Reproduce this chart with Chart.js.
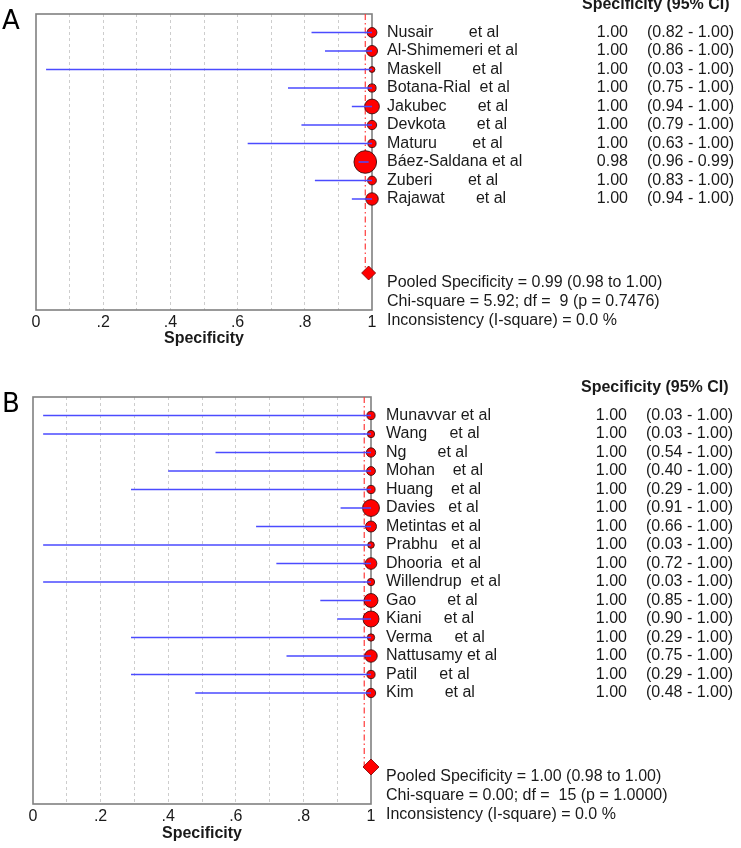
<!DOCTYPE html>
<html><head><meta charset="utf-8">
<script src="https://cdn.jsdelivr.net/npm/chart.js@4.4.0/dist/chart.umd.min.js"></script>
<style>
html,body{margin:0;padding:0;background:#fff;}
#wrapA{position:absolute;left:0;top:0;width:741px;height:350px;}
#wrapB{position:absolute;left:0;top:370px;width:741px;height:478px;}
</style></head><body>
<div id="wrapA"><canvas id="cA"></canvas></div>
<div id="wrapB"><canvas id="cB"></canvas></div>
<script>
// ---------- Panel A data ----------
const studiesA = ['Nusair        et al','Al-Shimemeri et al','Maskell       et al','Botana-Rial  et al','Jakubec       et al','Devkota       et al','Maturu        et al','Báez-Saldana et al','Zuberi        et al','Rajawat       et al'];
const specA  = [1.00,1.00,1.00,1.00,1.00,1.00,1.00,0.98,1.00,1.00];
const lowerA = [0.82,0.86,0.03,0.75,0.94,0.79,0.63,0.96,0.83,0.94];
const upperA = [1.00,1.00,1.00,1.00,1.00,1.00,1.00,0.99,1.00,1.00];
const weightA = [20,25,7,14,45,18,14,106,16,32];
const pooledA = {spec:0.99, lower:0.98, upper:1.00, chi:'5.92', df:'9', p:'0.7476', i2:'0.0'};

// ---------- Panel B data ----------
const studiesB = ['Munavvar et al','Wang     et al','Ng       et al','Mohan    et al','Huang    et al','Davies   et al','Metintas et al','Prabhu   et al','Dhooria  et al','Willendrup  et al','Gao       et al','Kiani     et al','Verma     et al','Nattusamy et al','Patil     et al','Kim       et al'];
const specB  = [1.00,1.00,1.00,1.00,1.00,1.00,1.00,1.00,1.00,1.00,1.00,1.00,1.00,1.00,1.00,1.00];
const lowerB = [0.03,0.03,0.54,0.40,0.29,0.91,0.66,0.03,0.72,0.03,0.85,0.90,0.29,0.75,0.29,0.48];
const upperB = [1.00,1.00,1.00,1.00,1.00,1.00,1.00,1.00,1.00,1.00,1.00,1.00,1.00,1.00,1.00,1.00];
const weightB = [14,11,18,16,14,59,25,9,28,11,40,53,11,32,14,18];
const pooledB = {spec:1.00, lower:0.98, upper:1.00, chi:'0.00', df:'15', p:'1.0000', i2:'0.0'};

// ---------- Axis ticks ----------
const xTickValues = [0,0.2,0.4,0.6,0.8,1];
const xTickLabels = ['0','.2','.4','.6','.8','1'];
const headerText = 'Specificity (95% CI)';
const axisTitle = 'Specificity';

const FONT = '"Liberation Sans", Arial, Helvetica, sans-serif';
const TXT = '#1a1a1a';

const forestPlugin = {
  id: 'forestText',
  beforeDatasetsDraw(chart) {
    const {ctx, chartArea: ca} = chart;
    ctx.save();
    ctx.strokeStyle = '#808080';
    ctx.lineWidth = 1.6;
    ctx.strokeRect(ca.left, ca.top, ca.right - ca.left, ca.bottom - ca.top);
    ctx.restore();
  },
  afterDraw(chart) {
    const o = chart.options.plugins.forestText;
    const {ctx, chartArea: ca} = chart;
    const y = chart.scales.y;
    const x0 = ca.right;
    const n = o.names.length;
    ctx.save();
    ctx.fillStyle = TXT;
    ctx.textBaseline = 'middle';
    ctx.font = 'bold 16px ' + FONT;
    ctx.textAlign = 'left';
    ctx.fillText(headerText, x0 + 210, y.getPixelForValue(-1.5));
    ctx.font = '16px ' + FONT;
    o.names.forEach((nm, i) => {
      const py = y.getPixelForValue(i);
      ctx.textAlign = 'left';
      ctx.fillText(nm, x0 + 15, py);
      ctx.textAlign = 'right';
      ctx.fillText(o.spec[i].toFixed(2), x0 + 256, py);
      ctx.textAlign = 'left';
      ctx.fillText('(' + o.lower[i].toFixed(2) + ' - ' + o.upper[i].toFixed(2) + ')', x0 + 275, py);
    });
    const P = o.pooled;
    ctx.textAlign = 'left';
    ctx.fillText('Pooled Specificity = ' + P.spec.toFixed(2) + ' (' + P.lower.toFixed(2) + ' to ' + P.upper.toFixed(2) + ')', x0 + 15, y.getPixelForValue(n + 3.52));
    ctx.fillText('Chi-square = ' + P.chi + '; df =  ' + P.df + ' (p = ' + P.p + ')', x0 + 15, y.getPixelForValue(n + 4.55));
    ctx.fillText('Inconsistency (I-square) = ' + P.i2 + ' %', x0 + 15, y.getPixelForValue(n + 5.55));
    ctx.font = '26px "DejaVu Sans", sans-serif';
    ctx.textBaseline = 'alphabetic';
    ctx.fillStyle = '#000';
    ctx.fillText(o.letter, 2, o.letterY);
    ctx.restore();
  }
};

function makeChart(id, cfg) {
  const n = cfg.names.length;
  const ciData = [];
  cfg.lower.forEach((lo, i) => {
    ciData.push({x: lo, y: i}, {x: cfg.upper[i], y: i}, {x: null, y: null});
  });
  return new Chart(document.getElementById(id), {
    type: 'scatter',
    data: {
      datasets: [
        {
          label: 'CI',
          data: ciData,
          showLine: true,
          spanGaps: false,
          borderColor: '#4b4bff',
          borderWidth: 1.5,
          pointRadius: 0,
          order: 0,
          clip: false
        },
        {
          label: 'Studies',
          data: cfg.spec.map((v, i) => ({x: v, y: i})),
          pointRadius: cfg.weight.map(w => 1.1 * Math.sqrt(w)),
          pointBackgroundColor: '#ff0000',
          pointBorderColor: 'rgba(60,15,15,0.9)',
          pointBorderWidth: 1,
          order: 1,
          clip: false
        },
        {
          label: 'Pooled line',
          data: [{x: cfg.pooled.lower, y: -1}, {x: cfg.pooled.lower, y: n + 3}],
          showLine: true,
          borderColor: '#ff3b3b',
          borderWidth: 1.2,
          borderDash: [6, 3, 1.5, 3],
          pointRadius: 0,
          order: 2,
          clip: false
        },
        {
          label: 'Pooled',
          data: [{x: cfg.pooled.spec, y: n + 3}],
          pointStyle: 'rectRot',
          pointRadius: cfg.diamond,
          pointBackgroundColor: '#ff0000',
          pointBorderColor: 'rgba(120,0,0,0.8)',
          pointBorderWidth: 1,
          order: 1,
          clip: false
        }
      ]
    },
    options: {
      responsive: true,
      maintainAspectRatio: false,
      animation: false,
      events: [],
      layout: {padding: {left: cfg.padL, right: 741 - cfg.plotRight, top: cfg.padT, bottom: 0}},
      scales: {
        x: {
          type: 'linear',
          min: 0, max: 1,
          afterFit: (s) => { s.height = cfg.axisH; },
          ticks: {
            stepSize: 0.1,
            autoSkip: false,
            maxRotation: 0,
            padding: cfg.tickPad,
            color: TXT,
            font: {family: FONT, size: 16},
            callback: (v) => {
              const k = xTickValues.findIndex(t => Math.abs(t - v) < 1e-6);
              return k >= 0 ? xTickLabels[k] : '';
            }
          },
          grid: {
            drawTicks: false,
            lineWidth: 1,
            color: (c) => (c.tick && c.tick.value > 0.01 && c.tick.value < 0.99) ? '#cdcdcd' : 'rgba(0,0,0,0)'
          },
          border: {display: false, dash: [3, 3]},
          title: {
            display: true,
            text: axisTitle,
            color: TXT,
            font: {family: FONT, size: 16, weight: 'bold'},
            padding: {top: 0, bottom: cfg.titlePadB}
          }
        },
        y: {
          type: 'linear',
          min: -1, max: n + 5,
          reverse: true,
          display: false
        }
      },
      plugins: {
        legend: {display: false},
        tooltip: {enabled: false},
        forestText: {
          names: cfg.names, spec: cfg.spec, lower: cfg.lower, upper: cfg.upper,
          pooled: cfg.pooled, letter: cfg.letter, letterY: cfg.letterY
        }
      }
    },
    plugins: [forestPlugin]
  });
}

makeChart('cA', {
  names: studiesA, spec: specA, lower: lowerA, upper: upperA, weight: weightA, pooled: pooledA,
  letter: 'A', letterY: 29, diamond: 7,
  padL: 36, plotRight: 372, padT: 14, axisH: 40, tickPad: 3, titlePadB: 2
});
makeChart('cB', {
  names: studiesB, spec: specB, lower: lowerB, upper: upperB, weight: weightB, pooled: pooledB,
  letter: 'B', letterY: 42, diamond: 8,
  padL: 33, plotRight: 371, padT: 27, axisH: 44, tickPad: 3, titlePadB: 5
});
</script>
</body></html>
